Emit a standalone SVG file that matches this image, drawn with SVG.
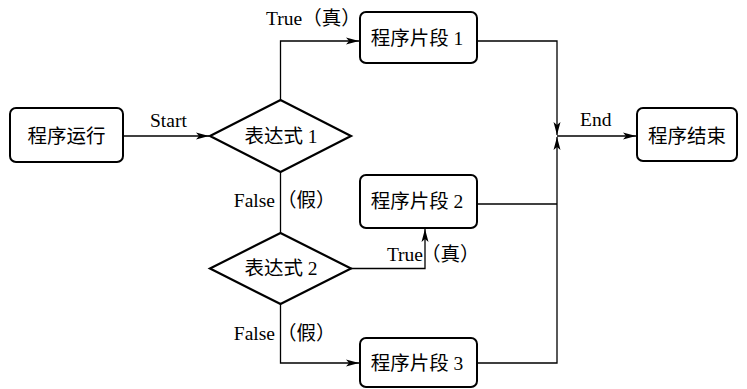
<svg xmlns="http://www.w3.org/2000/svg" width="747" height="389" viewBox="0 0 747 389">
<style>
.box{fill:#fff;stroke:#000;stroke-width:2}
.dia{fill:#fff;stroke:#000;stroke-width:2.2}
.ln{fill:none;stroke:#000;stroke-width:1.3}
text{font-family:"Liberation Serif","Noto Sans CJK SC",serif;font-size:19.5px;fill:#000}
.c{text-anchor:middle}
.e{text-anchor:end}
</style>
<defs>
<marker id="ah" markerWidth="14" markerHeight="8" refX="13" refY="4" orient="auto" markerUnits="userSpaceOnUse">
<path d="M0,0.5 L13,4 L0,7.5 L3,4 z" fill="#000"/>
</marker>
</defs>
<g id="connectors">
<path class="ln" d="M123,136 H209" marker-end="url(#ah)"/>
<path class="ln" d="M280.5,100 V41 H359" marker-end="url(#ah)"/>
<path class="ln" d="M280.5,172 V233"/>
<path class="ln" d="M351,268.5 H425 V229" marker-end="url(#ah)"/>
<path class="ln" d="M280.5,304 V363 H359" marker-end="url(#ah)"/>
<path class="ln" d="M477,41 H557 V135" marker-end="url(#ah)"/>
<path class="ln" d="M477,204 H557"/>
<path class="ln" d="M477,363 H557 V137" marker-end="url(#ah)"/>
<path class="ln" d="M557,136 H636" marker-end="url(#ah)"/>
<text x="150" y="127">Start</text>
<text x="266" y="25">True<tspan>（真）</tspan></text>
<text class="e" x="275" y="207">False</text>
<text x="277" y="207">（假）</text>
<text class="e" x="423" y="261">True</text>
<text x="421" y="261">（真）</text>
<text class="e" x="275" y="340">False</text>
<text x="277" y="340">（假）</text>
<text x="580" y="126">End</text>
</g>
<g id="start">
<rect class="box" x="10" y="108" width="113" height="54" rx="6"/>
<text class="c" x="66.5" y="143">程序运行</text>
</g>
<g id="expr1">
<polygon class="dia" points="210,136 280.5,100 351,136 280.5,172"/>
<text class="c" x="281" y="143">表达式 1</text>
</g>
<g id="seg1">
<rect class="box" x="360" y="12" width="117" height="51" rx="6"/>
<text class="c" x="417" y="45">程序片段 1</text>
</g>
<g id="seg2">
<rect class="box" x="360" y="175" width="117" height="53" rx="6"/>
<text class="c" x="417" y="208">程序片段 2</text>
</g>
<g id="expr2">
<polygon class="dia" points="210,268.5 280.5,233 351,268.5 280.5,304"/>
<text class="c" x="281" y="275">表达式 2</text>
</g>
<g id="seg3">
<rect class="box" x="360" y="338" width="117" height="49" rx="6"/>
<text class="c" x="417" y="370">程序片段 3</text>
</g>
<g id="end">
<rect class="box" x="637" y="108" width="100" height="53" rx="6"/>
<text class="c" x="687" y="143">程序结束</text>
</g>
</svg>
